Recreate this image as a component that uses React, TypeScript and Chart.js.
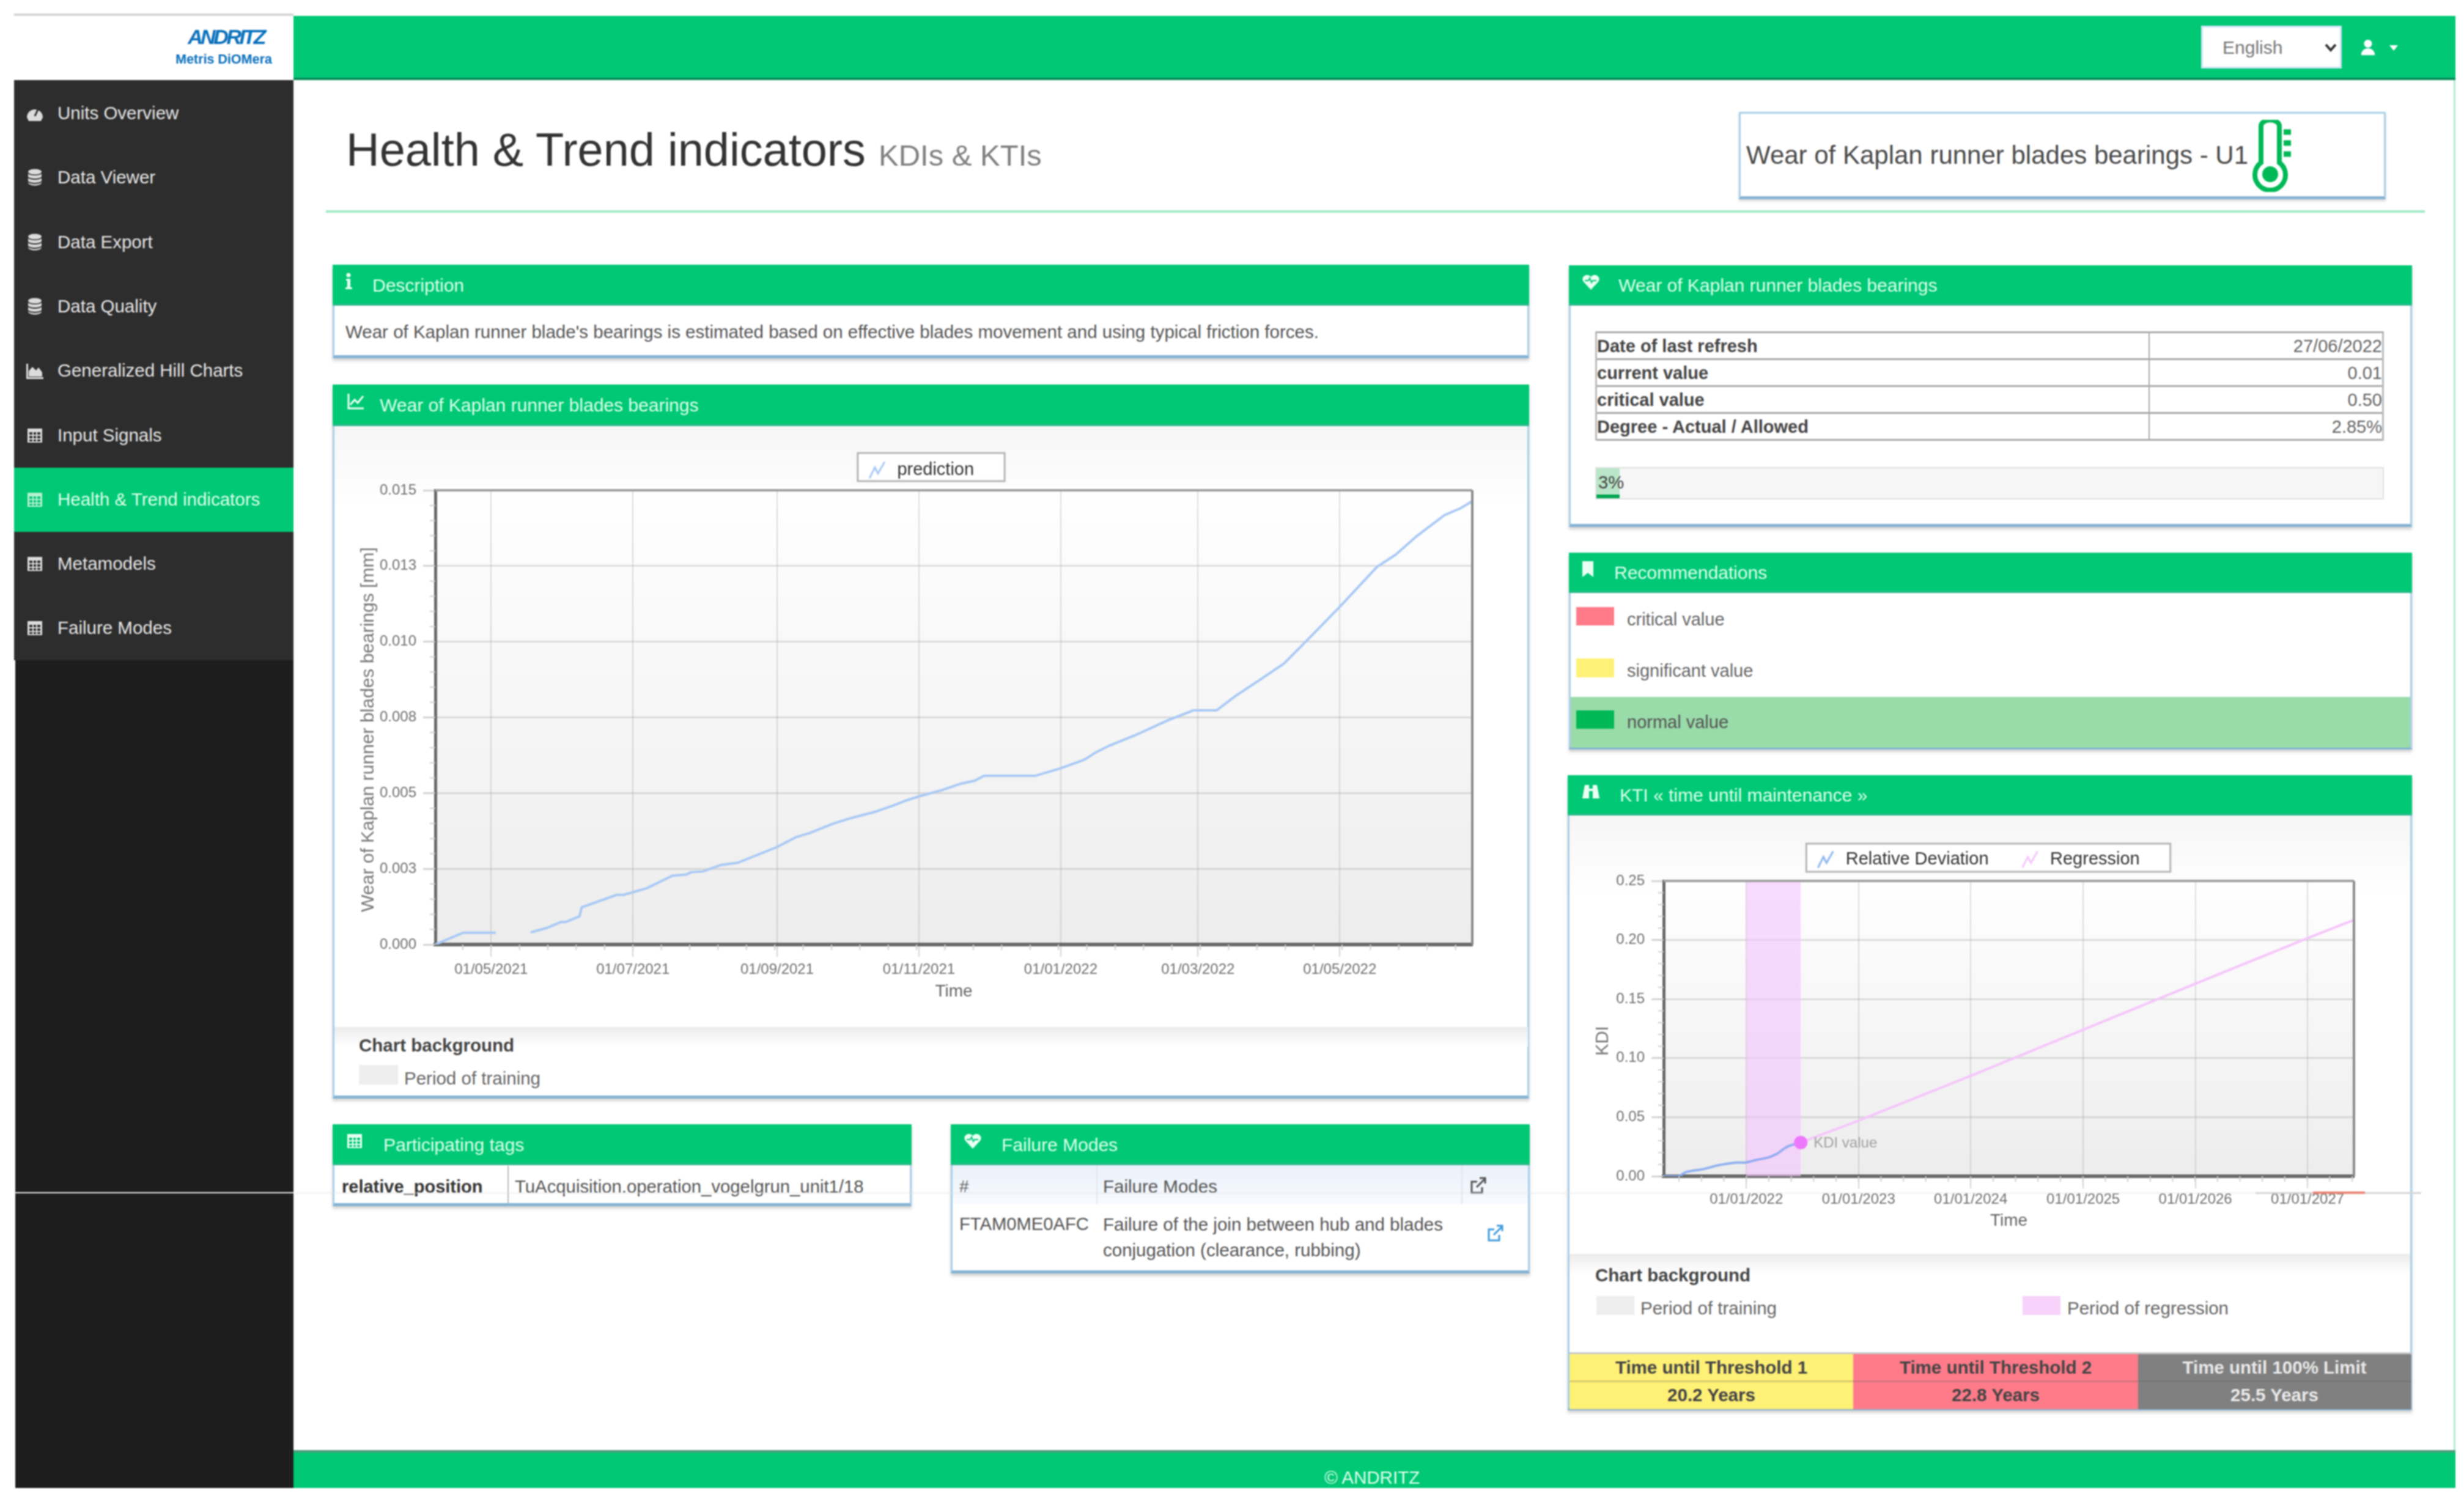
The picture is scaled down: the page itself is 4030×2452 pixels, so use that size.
import React, { useEffect, useRef } from "react";
import { Chart, registerables } from "chart.js";

Chart.register(...registerables);

// ---------- data ----------
const wearDates = ["2021-04-07","2021-04-19","2021-05-03","2021-05-10","2021-05-18","2021-05-25","2021-05-31","2021-06-02","2021-06-08","2021-06-09","2021-06-24","2021-06-27","2021-07-07","2021-07-18","2021-07-24","2021-07-26","2021-07-31","2021-08-08","2021-08-15","2021-09-01","2021-09-09","2021-09-15","2021-09-25","2021-10-03","2021-10-13","2021-10-21","2021-10-27","2021-11-01","2021-11-11","2021-11-19","2021-11-25","2021-11-29","2021-12-21","2022-01-01","2022-01-11","2022-01-16","2022-01-22","2022-02-02","2022-02-16","2022-02-27","2022-03-09","2022-03-17","2022-03-28","2022-04-07","2022-04-17","2022-05-01","2022-05-17","2022-05-25","2022-06-03","2022-06-15","2022-06-22","2022-06-27"];
const wearValues = [0,0.00039,0.00039,null,0.0004,0.00055,0.00074,0.00074,0.00093,0.00123,0.00164,0.00164,0.00186,0.00227,0.00231,0.00239,0.00241,0.00263,0.0027,0.00322,0.00354,0.00368,0.00399,0.00418,0.00438,0.00459,0.00477,0.00489,0.0051,0.00531,0.00541,0.00557,0.00557,0.00582,0.0061,0.00634,0.00657,0.00691,0.0074,0.00773,0.00773,0.0082,0.00876,0.00928,0.01005,0.01115,0.01247,0.01287,0.01348,0.01418,0.01441,0.01464];
const wearTickLabels = ["01/05/2021","01/07/2021","01/09/2021","01/11/2021","01/01/2022","01/03/2022","01/05/2022"];
const wearYTicks = [0,0.0025,0.005,0.0075,0.01,0.0125,0.015];
const wearYLabels = ["0.000","0.003","0.005","0.008","0.010","0.013","0.015"];
const wearRange = ["2021-04-07","2022-06-27"];

const deviationDates = ["2021-04-07","2021-05-26","2021-06-18","2021-08-14","2021-10-06","2021-11-28","2022-01-01","2022-02-03","2022-03-15","2022-04-11","2022-05-14","2022-06-27"];
const deviationValues = [0,0,0.0034,0.006,0.0095,0.0115,0.0117,0.0138,0.016,0.019,0.025,0.0285];
const regressionDates = ["2022-01-01","2022-02-03","2022-03-15","2022-04-11","2022-05-14","2022-06-27","2023-01-01","2024-01-01","2025-01-01","2026-01-01","2027-01-01","2027-06-01"];
const regressionValues = [0.0117,0.0138,0.016,0.019,0.025,0.0285,0.047,0.085,0.124,0.163,0.2015,0.217];
const kdiDate = ["2022-06-27"];
const kdiValue = [0.0285];
const regressionBand = ["2022-01-01","2022-06-27"];
const ktiTickLabels = ["01/01/2022","01/01/2023","01/01/2024","01/01/2025","01/01/2026","01/01/2027"];
const ktiYTicks = [0,0.05,0.1,0.15,0.2,0.25];
const ktiYLabels = ["0.00","0.05","0.10","0.15","0.20","0.25"];
const ktiRange = ["2021-04-07","2027-06-01"];

const menuItems = ["Units Overview","Data Viewer","Data Export","Data Quality","Generalized Hill Charts","Input Signals","Health & Trend indicators","Metamodels","Failure Modes"];
const menuIcons = ["gauge","db","db","db","area","table","table","table","table"];
const summaryRows = [["Date of last refresh","27/06/2022"],["current value","0.01"],["critical value","0.50"],["Degree - Actual / Allowed","2.85%"]];

// ---------- helpers ----------
const GREEN = "#00C875";
const FONT = '"Liberation Sans", Arial, sans-serif';
const iso = (s: string) => new Date(s + "T00:00:00Z").getTime();
const dmy = (s: string) => { const [d, m, y] = s.split("/"); return Date.UTC(+y, +m - 1, +d); };

function zigzag(color: string) {
  const c = document.createElement("canvas");
  c.width = 30; c.height = 32;
  const g = c.getContext("2d")!;
  g.strokeStyle = color; g.lineWidth = 3;
  g.beginPath(); g.moveTo(2, 30); g.lineTo(11, 12); g.lineTo(16, 22); g.lineTo(27, 3); g.stroke();
  return c;
}

function buildChart(canvas: HTMLCanvasElement, cfg: any) {
  const framePlugin = {
    id: "frame",
    afterInit(chart: any) {
      const lg = chart.legend; const fit = lg.fit;
      lg.fit = function () { fit.call(this); this.height = cfg.legendHeight; };
    },
    beforeDraw(chart: any) {
      const { ctx, chartArea: a, width } = chart;
      ctx.save();
      const top = ctx.createLinearGradient(0, 0, 0, 130);
      top.addColorStop(0, "#f6f6f6"); top.addColorStop(1, "#ffffff");
      ctx.fillStyle = top; ctx.fillRect(cfg.inset[0], 0, width - cfg.inset[0] - cfg.inset[1], 130);
      const g = ctx.createLinearGradient(0, a.top, 0, a.bottom);
      g.addColorStop(0, "#ffffff"); g.addColorStop(1, "#ededed");
      ctx.fillStyle = g; ctx.fillRect(a.left, a.top, a.right - a.left, a.bottom - a.top);
      const boxes = chart.legend.legendHitBoxes;
      if (boxes.length) {
        const l = boxes[0].left - 14;
        const last = boxes[boxes.length - 1];
        const r = last.left + last.width + 50;
        ctx.fillStyle = "#fff"; ctx.strokeStyle = "#b5b5b5"; ctx.lineWidth = 3;
        ctx.fillRect(l, cfg.legendBoxTop, r - l, 46);
        ctx.strokeRect(l, cfg.legendBoxTop, r - l, 46);
      }
      ctx.restore();
    },
    beforeDatasetsDraw(chart: any) {
      if (!cfg.band) return;
      const { ctx, chartArea: a, scales } = chart;
      const x0 = scales.x.getPixelForValue(iso(cfg.band[0]));
      const x1 = scales.x.getPixelForValue(iso(cfg.band[1]));
      ctx.save();
      ctx.fillStyle = "rgba(246,196,255,0.62)";
      ctx.fillRect(x0, a.top, x1 - x0, a.bottom - a.top);
      ctx.restore();
    },
    afterDraw(chart: any) {
      const { ctx, chartArea: a, scales } = chart;
      ctx.save();
      // minor ticks
      ctx.strokeStyle = "#cfcfcf"; ctx.lineWidth = 2;
      const xs = cfg.xTicks as number[];
      const xStep = (xs[1] - xs[0]) / 5;
      for (let v = xs[0] - xStep * 30; v < scales.x.max; v += xStep) {
        if (v <= scales.x.min) continue;
        const p = scales.x.getPixelForValue(v);
        ctx.beginPath(); ctx.moveTo(p, a.bottom); ctx.lineTo(p, a.bottom + 9); ctx.stroke();
      }
      const ys = cfg.yTicks as number[];
      const yStep = (ys[1] - ys[0]) / 5;
      for (let v = ys[0]; v < ys[ys.length - 1]; v += yStep) {
        const p = scales.y.getPixelForValue(v);
        ctx.beginPath(); ctx.moveTo(a.left - 9, p); ctx.lineTo(a.left, p); ctx.stroke();
      }
      // top and right frame
      ctx.strokeStyle = "#a0a0a0"; ctx.lineWidth = 4;
      ctx.beginPath(); ctx.moveTo(a.left, a.top); ctx.lineTo(a.right, a.top); ctx.stroke();
      ctx.strokeStyle = "#8a8a8a";
      ctx.beginPath(); ctx.moveTo(a.right, a.top); ctx.lineTo(a.right, a.bottom); ctx.stroke();
      if (cfg.pointLabel) {
        const px = scales.x.getPixelForValue(iso(kdiDate[0]));
        const py = scales.y.getPixelForValue(kdiValue[0]);
        ctx.fillStyle = "#a0a0a0"; ctx.font = `24px ${FONT}`; ctx.textBaseline = "middle";
        ctx.fillText(cfg.pointLabel, px + 21, py + 1);
      }
      // y axis title, sitting a little below the axis centre
      ctx.translate(cfg.yTitleX, (a.top + a.bottom) / 2 + 20);
      ctx.rotate(-Math.PI / 2);
      ctx.textAlign = "center"; ctx.textBaseline = "middle";
      ctx.fillStyle = "#777"; ctx.font = `${cfg.yTitleSize}px ${FONT}`;
      ctx.fillText(cfg.yTitle, 0, 0);
      ctx.restore();
    },
  };
  return new Chart(canvas, {
    type: "line",
    data: { datasets: cfg.datasets },
    plugins: [framePlugin],
    options: {
      animation: false,
      responsive: false,
      devicePixelRatio: 1,
      layout: { padding: { top: cfg.padTop, left: 0, right: cfg.padRight, bottom: 0 } },
      plugins: {
        tooltip: { enabled: false },
        legend: {
          display: true,
          position: "top",
          labels: {
            usePointStyle: true,
            pointStyleWidth: 36,
            padding: cfg.legendPadding,
            color: "#333",
            font: { family: FONT, size: 29 },
            generateLabels: (chart: any) =>
              chart.data.datasets
                .filter((d: any) => d.legendIcon)
                .map((d: any) => ({ text: d.label, pointStyle: d.legendIcon, fontColor: "#333", datasetIndex: chart.data.datasets.indexOf(d) })),
          },
        },
      },
      scales: {
        x: {
          type: "linear",
          min: iso(cfg.range[0]),
          max: iso(cfg.range[1]),
          bounds: "data",
          afterFit: (s: any) => { s.height = cfg.xHeight; },
          afterBuildTicks: (s: any) => { s.ticks = cfg.xTicks.map((value: number) => ({ value })); },
          grid: { color: "rgba(150,150,150,0.32)", lineWidth: 2, tickLength: 20, tickColor: "#d5d5d5" },
          border: { color: "#6a6a6a", width: 6 },
          ticks: {
            autoSkip: false, maxRotation: 0, padding: cfg.xTickPad, color: "#707070",
            font: { family: FONT, size: 24 },
            callback: (_v: any, i: number) => cfg.xLabels[i],
          },
          title: { display: true, text: "Time", color: "#666", font: { family: FONT, size: 28 }, padding: { top: 0, bottom: cfg.xTitlePad } },
        },
        y: {
          type: "linear",
          min: 0,
          max: cfg.yTicks[cfg.yTicks.length - 1],
          afterFit: (s: any) => { s.width = cfg.yWidth; },
          afterBuildTicks: (s: any) => { s.ticks = cfg.yTicks.map((value: number) => ({ value })); },
          grid: { color: "rgba(170,170,170,0.36)", lineWidth: 3, tickLength: 20, tickColor: "#d5d5d5" },
          border: { color: "#6a6a6a", width: 5 },
          ticks: {
            autoSkip: false, padding: 11, color: "#707070",
            font: { family: FONT, size: 24 },
            callback: (_v: any, i: number) => cfg.yLabels[i],
          },
        },
        rightGutter: {
          type: "linear",
          position: "right",
          afterFit: (s: any) => { s.width = cfg.rightWidth; },
          grid: { display: false },
          border: { display: false },
          ticks: { display: false },
        },
      },
    } as any,
  });
}

const xy = (dates: string[], vals: (number | null)[]) => dates.map((d, i) => ({ x: iso(d), y: vals[i] }));

function ChartBox({ left, top, width, height, make }: any) {
  const ref = useRef<HTMLCanvasElement>(null);
  useEffect(() => {
    const c = buildChart(ref.current!, make());
    return () => c.destroy();
  }, []);
  return <canvas ref={ref} width={width} height={height} style={{ position: "absolute", left, top, width, height, display: "block" }} />;
}

function T({ x, y, size = 29.5, color = "#555", bold, align = "left", children, italic, w }: any) {
  const style: any = {
    position: "absolute", top: y, fontSize: size, color, fontWeight: bold ? 700 : 400, fontStyle: italic ? "italic" : "normal",
    whiteSpace: "nowrap", lineHeight: 1, transform: "translateY(-50%)", fontFamily: FONT,
  };
  if (align === "left") style.left = x;
  if (align === "right") style.right = 4030 - x;
  if (align === "center") { style.left = x - (w || 1000) / 2; style.width = w || 1000; style.textAlign = "center"; }
  return <div style={style}>{children}</div>;
}

function Box({ x, y, w, h, bg, style }: any) {
  return <div style={{ position: "absolute", left: x, top: y, width: w, height: h, background: bg, ...style }} />;
}

function Icon({ kind, cx, cy, s = 30, color = "#e8e8e8" }: any) {
  const shape: any = {
    gauge: <g fill={color}><path d="M2 22a13 13 0 1 1 26 0l-3 6H5z" /><path d="M15 20 L20 9" stroke="#2d2d2d" strokeWidth="3" /></g>,
    db: <g fill={color}><ellipse cx="15" cy="6" rx="11" ry="4.5" /><path d="M4 9c3 4 19 4 22 0v5c-3 4-19 4-22 0z" /><path d="M4 16c3 4 19 4 22 0v5c-3 4-19 4-22 0z" /><path d="M4 23c3 4 19 4 22 0v1c-2 6-20 6-22 0z" /></g>,
    area: <g fill={color}><path d="M1 4v25h28v-3H4V4z" /><path d="M5 25V16l6-7 6 6 4-5 6 8v7z" /></g>,
    table: <g fill={color}><path fillRule="evenodd" d="M3 4h24v23H3zM6 10v4h5v-4zm7 0v4h4v-4zm6 0v4h5v-4zM6 16v4h5v-4zm7 0v4h4v-4zm6 0v4h5v-4zM6 22v3h5v-3zm7 0v3h4v-3zm6 0v3h5v-3z" /></g>,
    line: <g fill="none" stroke={color} strokeWidth="3"><path d="M3 3v24h25" /><path d="M6 21l7-8 5 5 9-11" /></g>,
    info: <g fill={color}><circle cx="15" cy="5" r="3.5" /><path d="M11 11h7v14h3v3H10v-3h3V14h-2z" /></g>,
    heart: <g fill={color}><path d="M15 28 3 15C-3 7 9-1 15 7c6-8 18 0 12 8z" /><path d="M5 13h6l2-4 3 7 2-3h6" stroke={GREEN} strokeWidth="2" fill="none" /></g>,
    mark: <path fill={color} d="M6 2h18v26l-9-7-9 7z" />,
    bino: <g fill={color}><path d="M5 4h7v6h6V4h7l4 22h-11V14h-6v12H1z" /></g>,
    link: <g fill="none" stroke={color} strokeWidth="3"><path d="M22 18v9H5V9h9" /><path d="M13 18 27 4M18 3h9v9" /></g>,
    user: <g fill={color}><circle cx="15" cy="8" r="7" /><path d="M3 28c0-16 24-16 24 0z" /></g>,
  }[kind];
  return <svg viewBox="0 0 30 30" width={s} height={s} style={{ position: "absolute", left: cx - s / 2, top: cy - s / 2 }}>{shape}</svg>;
}

function Panel({ x, y, w, h, headH, title, icon, iconX, titleX }: any) {
  return (
    <>
      <Box x={x} y={y} w={w} h={h} bg="#fff" style={{ boxSizing: "border-box", border: "3px solid #a9cfea", borderBottom: "5px solid #86b3d3", boxShadow: "0 4px 5px rgba(0,0,0,0.18)" }} />
      <Box x={x} y={y} w={w} h={headH} bg={GREEN} style={{ borderBottom: "3px solid #2fb98c", boxSizing: "border-box" }} />
      <Icon kind={icon} cx={iconX} cy={y + 27} s={30} color="#eafff3" />
      <T x={titleX} y={y + headH / 2} size={30} color="#d9ffe9">{title}</T>
    </>
  );
}

export default function App() {
  useEffect(() => { document.body.style.margin = "0"; document.body.style.overflow = "hidden"; }, []);
  return (
    <div style={{ position: "fixed", left: 0, top: 0, width: 4030, height: 2452, background: "#fff", overflow: "hidden", fontFamily: FONT, filter: "blur(1px)" }}>
      {/* top bar */}
      <Box x={23} y={22} w={457} h={4} bg="#d5d5d5" />
      <Box x={480} y={26} w={3536} h={105} bg={GREEN} style={{ borderBottom: "4px solid #0a8f5a", boxSizing: "border-box" }} />
      <T x={307} y={60} size={34} bold italic color="#0a72bd"><span style={{ letterSpacing: -3.5 }}>ANDRITZ</span></T>
      <T x={287} y={98} size={21.5} bold color="#0a72bd">Metris DiOMera</T>
      <Box x={3600} y={42} w={230} h={70} bg="#fff" style={{ border: "3px solid #cfe6f5", boxSizing: "border-box" }} />
      <T x={3635} y={78} size={30} color="#777">English</T>
      <svg width="20" height="14" viewBox="0 0 20 14" style={{ position: "absolute", left: 3802, top: 71 }}><path d="M2 2l8 9 8-9" fill="none" stroke="#333" strokeWidth="4" /></svg>
      <Icon kind="user" cx={3873} cy={78} s={28} color="#fff" />
      <svg width="14" height="9" viewBox="0 0 14 9" style={{ position: "absolute", left: 3908, top: 74 }}><path d="M0 0h14l-7 9z" fill="#fff" /></svg>

      {/* sidebar */}
      <Box x={23} y={131} w={457} h={949} bg="#2d2d2d" />
      <Box x={25} y={1080} w={455} h={1354} bg="#1d1d1d" />
      <Box x={23} y={765} w={457} h={105} bg={GREEN} />
      {menuItems.map((m, i) => {
        const cy = 185 + i * 105.3;
        return (
          <React.Fragment key={m}>
            <Icon kind={menuIcons[i]} cx={57} cy={cy} s={30} color={i === 6 ? "#b6f2d0" : "#dcdcdc"} />
            <T x={94} y={cy} size={29.5} color={i === 6 ? "#dcffe9" : "#e6e6e6"}>{m}</T>
          </React.Fragment>
        );
      })}

      {/* page frame */}
      <Box x={4013} y={131} w={3} h={2241} bg="#b6ecd0" />
      <T x={566} y={245} size={75.7} color="#333">Health &amp; Trend indicators</T>
      <T x={1437} y={254} size={49} color="#808080">KDIs &amp; KTIs</T>
      <Box x={533} y={344} w={3433} h={4} bg="#a5e8c4" />

      {/* title box */}
      <Box x={2844} y={183} w={1058} h={143} bg="#fff" style={{ boxSizing: "border-box", border: "3px solid #a9cfea", borderBottom: "5px solid #86b3d3", boxShadow: "0 3px 4px rgba(0,0,0,0.15)" }} />
      <T x={2856} y={254} size={42} color="#4a4a4a">Wear of Kaplan runner blades bearings - U1</T>
      <svg width="70" height="118" viewBox="0 0 70 118" style={{ position: "absolute", left: 3680, top: 196 }}>
        <path d="M18 10a14 9 0 0 1 30 0v60a25 25 0 1 1-30 0z" fill="#fff" stroke="#00B956" strokeWidth="8" />
        <circle cx="33" cy="89" r="13" fill="#00B956" />
        <path d="M55 20h12M55 38h12M55 56h12" stroke="#00B956" strokeWidth="9" />
      </svg>

      {/* description */}
      <Panel x={544} y={433} w={1957} h={153} headH={67} title="Description" icon="info" iconX={570} titleX={609} />
      <T x={565} y={543} size={29.5} color="#555">Wear of Kaplan runner blade's bearings is estimated based on effective blades movement and using typical friction forces.</T>

      {/* wear chart */}
      <Panel x={544} y={629} w={1957} h={1168} headH={68} title="Wear of Kaplan runner blades bearings" icon="line" iconX={582} titleX={621} />
      <ChartBox
        left={545} top={697} width={1956} height={983}
        make={() => ({
          datasets: [{
            label: "prediction", data: xy(wearDates, wearValues), borderColor: "#a9c9f5", borderWidth: 4, pointRadius: 0, tension: 0, spanGaps: false, legendIcon: zigzag("#a9c9f5"),
          }],
          range: wearRange, xTicks: wearTickLabels.map(dmy), xLabels: wearTickLabels, yTicks: wearYTicks, yLabels: wearYLabels,
          yTitle: "Wear of Kaplan runner blades bearings [mm]", yTitleX: 58, yTitleSize: 30, inset: [2, 3],
          padTop: 49, padRight: 36, legendPadding: 8, legendHeight: 56, legendBoxTop: 44,
          xHeight: 135, yWidth: 167, rightWidth: 57, xTickPad: 7, xTitlePad: 41,
        })}
      />
      <Box x={547} y={1680} w={1952} h={32} bg="linear-gradient(#ececec,#ffffff)" />
      <T x={587} y={1710} bold color="#444">Chart background</T>
      <Box x={587} y={1742} w={64} h={32} bg="#eeeeee" />
      <T x={661} y={1764} color="#666">Period of training</T>

      {/* participating tags */}
      <Panel x={544} y={1839} w={947} h={134} headH={67} title="Participating tags" icon="table" iconX={580} titleX={627} />
      <T x={559} y={1941} size={29} bold color="#333">relative_position</T>
      <Box x={830} y={1907} w={2} h={62} bg="#bbb" />
      <T x={842} y={1941} size={29.3} color="#555">TuAcquisition.operation_vogelgrun_unit1/18</T>

      {/* failure modes */}
      <Panel x={1555} y={1839} w={947} h={244} headH={67} title="Failure Modes" icon="heart" iconX={1591} titleX={1638} />
      <Box x={1558} y={1906} w={941} h={64} bg="linear-gradient(#eaf1fa,#f8fbff)" />
      <Box x={1793} y={1906} w={2} h={64} bg="#e0e6ee" />
      <Box x={2390} y={1906} w={2} h={64} bg="#e0e6ee" />
      <T x={1569} y={1941} size={28} color="#666">#</T>
      <T x={1804} y={1941} color="#555">Failure Modes</T>
      <Icon kind="link" cx={2417} cy={1939} s={30} color="#555" />
      <T x={1569} y={2003} size={29.2} color="#555">FTAM0ME0AFC</T>
      <T x={1804} y={2003} color="#555">Failure of the join between hub and blades</T>
      <T x={1804} y={2045} color="#555">conjugation (clearance, rubbing)</T>
      <Icon kind="link" cx={2445} cy={2017} s={30} color="#3f9bdc" />

      {/* summary */}
      <Panel x={2566} y={434} w={1379} h={428} headH={66} title="Wear of Kaplan runner blades bearings" icon="heart" iconX={2602} titleX={2647} />
      <div style={{ position: "absolute", left: 2609, top: 542, width: 1290, boxSizing: "border-box", borderTop: "3px solid #aaa", borderLeft: "3px solid #bbb", borderRight: "3px solid #bbb" }}>
        {summaryRows.map((r) => (
          <div key={r[0]} style={{ display: "flex", height: 44, lineHeight: "42px", borderBottom: "3px solid #aaa", boxSizing: "border-box", fontSize: 29 }}>
            <div style={{ width: 904, fontWeight: 700, color: "#444", borderRight: "2px solid #aaa", boxSizing: "border-box" }}>{r[0]}</div>
            <div style={{ flex: 1, textAlign: "right", color: "#666" }}>{r[1]}</div>
          </div>
        ))}
      </div>
      <Box x={2609} y={764} w={1290} h={53} bg="#f6f6f6" style={{ border: "2px solid #e2e2e2", boxSizing: "border-box" }} />
      <Box x={2611} y={766} w={38} h={49} bg="#b9e6c8" />
      <Box x={2611} y={809} w={38} h={6} bg="#00A651" />
      <T x={2614} y={789} size={29} color="#444">3%</T>

      {/* recommendations */}
      <Panel x={2566} y={904} w={1379} h={322} headH={66} title="Recommendations" icon="mark" iconX={2597} titleX={2640} />
      <Box x={2578} y={993} w={62} h={30} bg="#FF7B8A" />
      <T x={2661} y={1013} size={29} color="#666">critical value</T>
      <Box x={2578} y={1077} w={62} h={31} bg="#FFF176" />
      <T x={2661} y={1097} size={29} color="#666">significant value</T>
      <Box x={2569} y={1140} w={1373} h={83} bg="#99DBA9" />
      <Box x={2578} y={1162} w={62} h={30} bg="#00B956" />
      <T x={2661} y={1181} size={29} color="#555">normal value</T>

      {/* KTI */}
      <Panel x={2564} y={1268} w={1381} h={1039} headH={66} title="KTI « time until maintenance »" icon="bino" iconX={2602} titleX={2649} />
      <ChartBox
        left={2566} top={1334} width={1376} height={717}
        make={() => ({
          datasets: [
            { label: "Relative Deviation", data: xy(deviationDates, deviationValues), borderColor: "rgba(135,170,240,0.9)", borderWidth: 4, pointRadius: 0, tension: 0.3, order: 1, legendIcon: zigzag("#8db6f0") },
            { label: "Regression", data: xy(regressionDates, regressionValues), borderColor: "#f5c6fb", borderWidth: 4, pointRadius: 0, tension: 0, order: 2, legendIcon: zigzag("#f5c6fb") },
            { label: "KDI value", data: xy(kdiDate, kdiValue), showLine: false, pointRadius: 11, pointBackgroundColor: "#ee78fb", pointBorderWidth: 0, order: 0 },
          ],
          range: ktiRange, xTicks: ktiTickLabels.map(dmy), xLabels: ktiTickLabels, yTicks: ktiYTicks, yLabels: ktiYLabels,
          yTitle: "KDI", yTitleX: 56, yTitleSize: 29, inset: [1, 0], band: regressionBand, pointLabel: "KDI value",
          padTop: 7, padRight: 40, legendPadding: 50, legendHeight: 100, legendBoxTop: 46,
          xHeight: 127, yWidth: 155, rightWidth: 52, xTickPad: 4, xTitlePad: 37,
        })}
      />
      <Box x={2567} y={2051} w={1375} h={32} bg="linear-gradient(#ececec,#ffffff)" />
      <T x={2609} y={2086} bold color="#444">Chart background</T>
      <Box x={2611} y={2120} w={62} h={31} bg="#eeeeee" />
      <T x={2683} y={2140} color="#666">Period of training</T>
      <Box x={3308} y={2120} w={62} h={31} bg="#F7D2FB" />
      <T x={3381} y={2140} color="#666">Period of regression</T>
      <Box x={2567} y={2215} w={464} h={90} bg="#FFF176" />
      <Box x={3031} y={2215} w={466} h={90} bg="#FF7B8A" />
      <Box x={3497} y={2215} w={447} h={90} bg="#808080" />
      <Box x={2567} y={2212} w={1377} h={3} bg="#c8c8c8" />
      <Box x={2567} y={2258} w={1377} h={3} bg="rgba(90,90,90,0.25)" />
      <T x={2799} y={2237} bold color="#444" align="center">Time until Threshold 1</T>
      <T x={3264} y={2237} bold color="#444" align="center">Time until Threshold 2</T>
      <T x={3720} y={2237} bold color="#e9e9e9" align="center">Time until 100% Limit</T>
      <T x={2799} y={2282} bold color="#444" align="center">20.2 Years</T>
      <T x={3264} y={2282} bold color="#444" align="center">22.8 Years</T>
      <T x={3720} y={2282} bold color="#e9e9e9" align="center">25.5 Years</T>

      {/* footer */}
      <Box x={480} y={2372} w={3536} h={62} bg={GREEN} style={{ borderTop: "4px solid #4d9c7a", boxSizing: "border-box" }} />
      <div style={{ position: "absolute", left: 480, top: 2372, width: 3536, height: 62, overflow: "hidden" }}>
        <div style={{ position: "absolute", left: 1686, top: 30, fontSize: 29.5, lineHeight: 1, color: "#d9ffe9", whiteSpace: "nowrap" }}>© ANDRITZ</div>
      </div>

      {/* screenshot seam */}
      <Box x={23} y={1950} w={457} h={2} bg="#e8e8e8" />
      <Box x={480} y={1950} w={3209} h={3} bg="rgba(225,225,225,0.35)" />
      <Box x={3689} y={1950} w={271} h={3} bg="#d6d6d6" />
      <Box x={3783} y={1949} w={85} h={4} bg="#ea8576" />
    </div>
  );
}
